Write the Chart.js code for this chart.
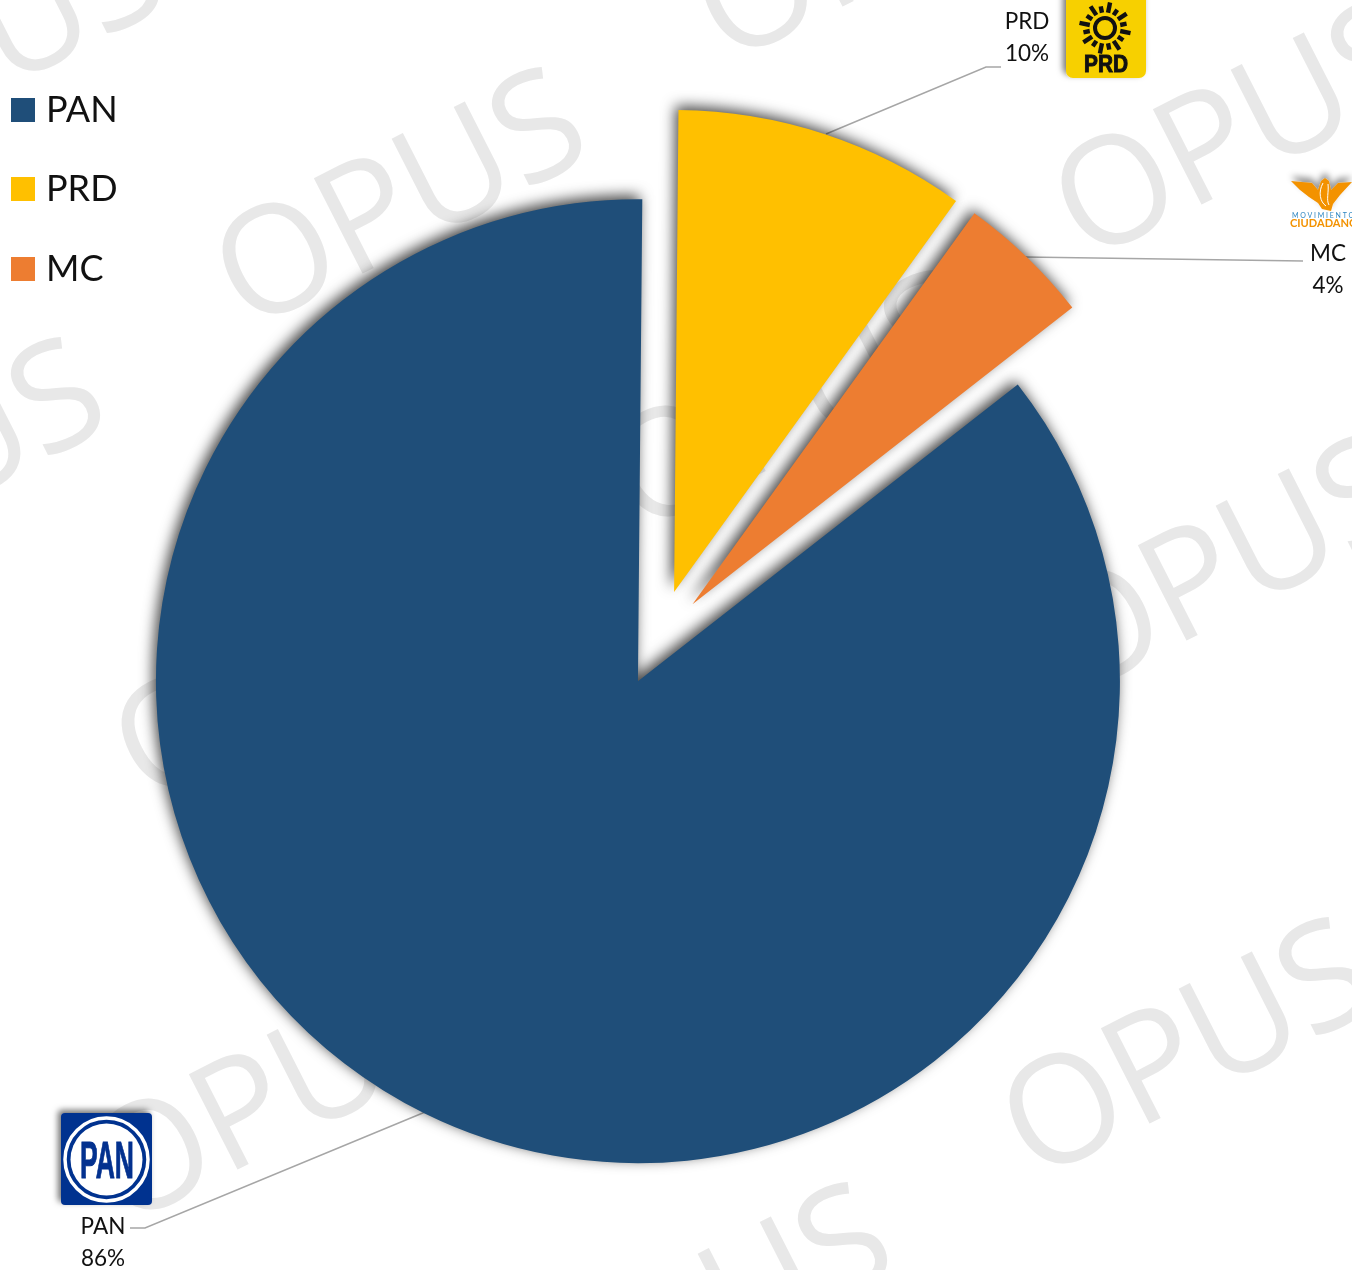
<!DOCTYPE html>
<html><head><meta charset="utf-8">
<script src="https://cdn.jsdelivr.net/npm/chart.js@4"></script>
<style>
html,body{margin:0;padding:0;background:#fff;overflow:hidden}
#stage{position:relative;width:1352px;height:1270px;overflow:hidden;font-family:Lato,sans-serif;color:#111}
#stage>*{position:absolute}
canvas{left:0;top:0}
.wm{font:500 150px "Open Sans",sans-serif;color:#e8e8e8;transform:translate(-50%,-50%) rotate(-27deg);white-space:nowrap;line-height:1;letter-spacing:-2px}
.lg{font-size:36px;line-height:40px;left:46px;transform:translateY(-50%);white-space:nowrap}
.sw{left:11px;width:24px;height:24px}
.dl{font-size:22.5px;line-height:32px;text-align:center;transform:translateX(-50%);white-space:nowrap}
svg{overflow:visible}
</style></head><body>
<div id="stage"></div>
<script>
const categories = ["PAN", "PRD", "MC"];
const shareValues = [85.7, 9.8, 4.5];
const percentLabels = ["86%", "10%", "4%"];
const sliceColors = ["#1F4E79", "#FFC000", "#ED7D31"];
const sliceExplode = [186, 200, 196];
const watermarkCenters = [[-27,40],[395,192],[875,-75],[1234,123],[-86,462],[787,395],[1219,559],[294,665],[-195,950],[270,1088],[1182,1042],[701,1307]];
const legendCenters = [110, 189, 269];
const labelAnchors = [[103,1210],[1027,5],[1328,237]];
const leaders = [
  [[130,1228],[145,1228],[430,1110]],
  [[1001,67],[986,67],[826,134]],
  [[1303,261],[1025,257]]
];

const stage = document.getElementById('stage');
function add(tag, cls, css, txt){const e=document.createElement(tag);if(cls)e.className=cls;Object.assign(e.style,css||{});if(txt!=null)e.innerHTML=txt;stage.appendChild(e);return e;}
watermarkCenters.forEach(c=>add('div','wm',{left:c[0]+'px',top:c[1]+'px'},'OPUS'));

const canvas = add('canvas');
canvas.width=1352;canvas.height=1270;canvas.style.width='1352px';canvas.style.height='1270px';

// Chart.js grows an exploded slice's radius and trims its sweep; undo both so slices keep one radius.
const sliceFix = {
  id:'sliceFix',
  afterDatasetUpdate(chart){
    const R=482;
    chart.getDatasetMeta(0).data.forEach((a,i)=>{
      const c=a.circumference, o=sliceExplode[i]/4, fix=1-Math.sin(Math.min(Math.PI,c)), ro=o*fix;
      a.outerRadius=R-ro;
      const d=ro/Math.PI/R/2;
      a.startAngle-=d; a.endAngle+=d;
    });
  }
};
const leaderLines = {
  id:'leaderLines',
  beforeDatasetsDraw(chart){
    const x=chart.ctx;x.save();x.strokeStyle='#a6a6a6';x.lineWidth=1.5;
    leaders.forEach(l=>{x.beginPath();l.forEach((p,i)=>i?x.lineTo(p[0],p[1]):x.moveTo(p[0],p[1]));x.stroke();});
    x.restore();
  }
};
const sliceShadow = {
  id:'sliceShadow',
  beforeDatasetDraw(chart){
    const x=chart.ctx;x.save();x.shadowColor='rgba(0,0,0,0.72)';x.shadowBlur=14;x.shadowOffsetX=-3;x.shadowOffsetY=-4;
  },
  afterDatasetDraw(chart){chart.ctx.restore();}
};
new Chart(canvas.getContext('2d'),{
  type:'pie',
  data:{labels:categories,datasets:[{data:shareValues,backgroundColor:sliceColors,borderWidth:0,offset:sliceExplode,hoverOffset:0,radius:482}]},
  options:{responsive:false,animation:false,rotation:52,devicePixelRatio:1,
    layout:{padding:{top:9,right:35,left:0,bottom:0}},
    plugins:{legend:{display:false},tooltip:{enabled:false}}},
  plugins:[sliceFix,leaderLines,sliceShadow]
});

categories.forEach((c,i)=>{
  add('div','sw',{top:(i==2?legendCenters[i]-12:legendCenters[i]-12)+'px',background:sliceColors[i]});
  add('div','lg',{top:(legendCenters[i]-2)+'px'},c);
  add('div','dl',{left:labelAnchors[i][0]+'px',top:labelAnchors[i][1]+'px'},c+'<br>'+percentLabels[i]);
});

// party logos
let rays='';
for(let i=0;i<16;i++){const a=(i+0.5)*Math.PI/8,l=i%2?22:26,s=Math.sin(a),k=Math.cos(a);
  rays+=`<line x1="${1105+15.5*s}" y1="${28-15.5*k}" x2="${1105+l*s}" y2="${28-l*k}"/>`;}
const svg=`<svg xmlns="http://www.w3.org/2000/svg" width="1352" height="1270" style="position:absolute;left:0;top:0">
<defs><filter id="sh" x="-30%" y="-30%" width="160%" height="160%"><feDropShadow dx="-3" dy="-3" stdDeviation="3" flood-color="#000" flood-opacity=".55"/></filter>
<filter id="sh2" x="-30%" y="-60%" width="160%" height="200%"><feDropShadow dx="0" dy="-5" stdDeviation="3" flood-color="#000" flood-opacity=".4"/></filter></defs>
<rect x="1066" y="-8" width="80" height="86" rx="7" fill="#F7D000" filter="url(#sh)"/>
<circle cx="1105" cy="28" r="10" fill="none" stroke="#111" stroke-width="4"/>
<g stroke="#111" stroke-width="4.4">${rays}</g>
<text x="1084" y="72" font-family="Liberation Sans" font-weight="700" font-size="24" fill="#111" stroke="#111" stroke-width="1" textLength="44" lengthAdjust="spacingAndGlyphs">PRD</text>
<rect x="61" y="1113" width="91" height="92" rx="4" fill="#03318F" filter="url(#sh)"/>
<circle cx="106.5" cy="1159.5" r="41.5" fill="none" stroke="#fff" stroke-width="3.5"/>
<circle cx="106.5" cy="1159.5" r="36" fill="#fff"/>
<text x="80" y="1178" font-family="Liberation Sans" font-weight="700" font-size="52" fill="#03318F" stroke="#03318F" stroke-width="1" textLength="54" lengthAdjust="spacingAndGlyphs">PAN</text>
<path d="M1291 181 L1312 183 L1318 190 L1321 181 L1325 178 L1329 181 L1331 190 L1338 183 L1352 182 L1340 195 L1333 204 L1331 211 L1322 209 L1318 203 L1309 197 L1300 190 Z" fill="#F39200" filter="url(#sh2)"/>
<path d="M1323 183 C1318 192 1320 202 1326 206 M1328 184 C1329 192 1326 200 1329 205" fill="none" stroke="#fff" stroke-width="1"/>
<text x="1292" y="218" font-family="Lato" font-size="7" fill="#2E86C1" textLength="62">MOVIMIENTO</text>
<text x="1290" y="227" font-family="Lato" font-weight="700" font-size="12" fill="#F39200" textLength="68" lengthAdjust="spacingAndGlyphs">CIUDADANO</text>
</svg>`;
stage.insertAdjacentHTML('beforeend',svg);
</script>
</body></html>
